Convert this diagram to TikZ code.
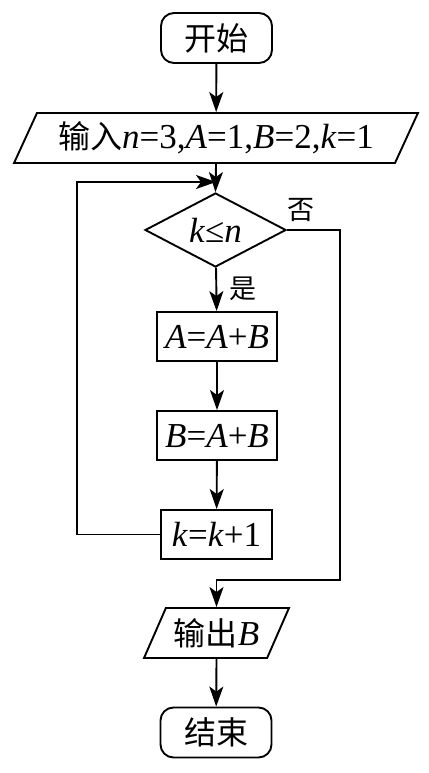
\documentclass[tikz,border=0pt]{standalone}
\usepackage{fontspec}
\setmainfont{Liberation Serif}
\newfontfamily\cjk{Noto Sans CJK SC}
\usetikzlibrary{shapes.geometric,arrows.meta}
\tikzset{
  base/.style={draw, line width=1.9pt, inner sep=0pt, font=\fontsize{35}{38}\selectfont},
  term/.style={base, rectangle, rounded corners=13pt, minimum width=111pt, minimum height=50pt},
  proc/.style={base, rectangle, minimum height=49pt},
  io/.style={base, trapezium, trapezium stretches=true, trapezium left angle=58, trapezium right angle=122, minimum height=50pt},
  decide/.style={base, diamond, minimum width=141pt, minimum height=74pt, aspect=1.9},
  arr/.style={line width=1.9pt, -{Stealth[length=20pt,width=14pt,inset=5pt]}},
  lab/.style={font=\fontsize{27}{29}\selectfont\cjk, inner sep=0pt}
}
\begin{document}
\begin{tikzpicture}[x=1pt,y=-1pt]
\useasboundingbox (0,0) rectangle (428,773);
\node[term] (start) at (216.5,38) {\fontsize{32}{34}\selectfont\cjk 开始};
\node[io, minimum width=404pt] (in) at (216,138) {{\fontsize{32}{34}\selectfont\cjk 输入}\textit{n}=3,\textit{A}=1,\textit{B}=2,\textit{k}=1};
\node[decide] (dia) at (215.5,230) {\textit{k}≤\textit{n}};
\node[proc, minimum width=120pt] (a) at (217,336.5) {\textit{A}=\textit{A}+\textit{B}};
\node[proc, minimum width=120pt] (b) at (217,435.5) {\textit{B}=\textit{A}+\textit{B}};
\node[proc, minimum width=111pt] (k) at (216.5,534.5) {\textit{k}=\textit{k}+1};
\node[io, minimum width=145pt] (out) at (216.5,633) {{\fontsize{32}{34}\selectfont\cjk 输出}\textit{B}};
\node[term] (end) at (216,732.5) {\fontsize{32}{34}\selectfont\cjk 结束};
\coordinate (merge) at (216,182);
\coordinate (lefttop) at (77,182);
\coordinate (turn) at (340,580);
\node[lab] (no) at (301,210) {否};
\node[lab] (yes) at (243,289) {是};
\draw[arr] (start) -- (in);
\draw[arr] (in.south) -- (dia.north);
\draw[arr] (k.west) -| (lefttop) -- (merge);
\draw[arr] (dia) -- (a);
\draw[arr] (a) -- (b);
\draw[arr] (b) -- (k);
\draw[arr] (dia.east) -| (turn) -| (out.north);
\draw[arr] (out.south) -- (end);
\end{tikzpicture}
\end{document}
